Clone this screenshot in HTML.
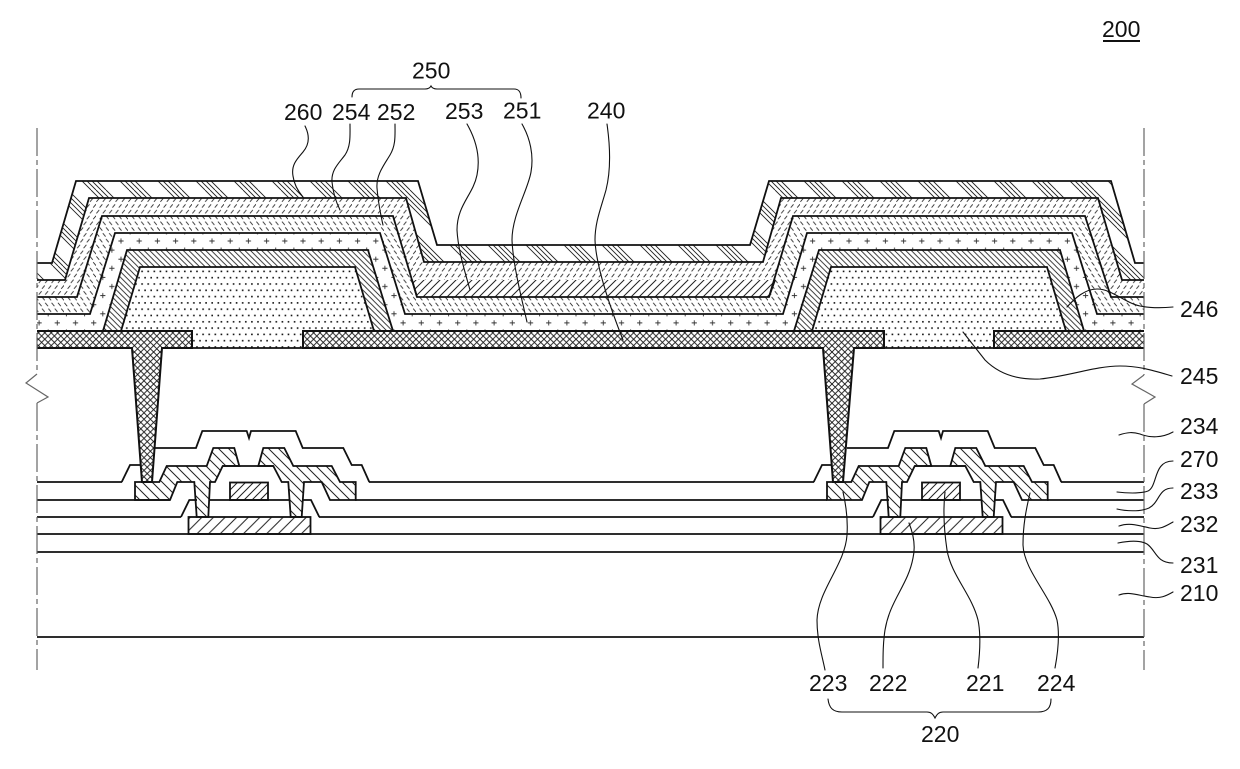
<!DOCTYPE html>
<html>
<head>
<meta charset="utf-8">
<style>
html,body{margin:0;padding:0;background:#fff;width:1240px;height:769px;overflow:hidden}
svg{display:block}
text{font-family:"Liberation Sans",sans-serif;font-size:23px;fill:#111}
.o{stroke:#111;stroke-width:1.8;fill:none;stroke-linejoin:miter}
.l{stroke:#111;stroke-width:1.1;fill:none;stroke-linecap:round}
.c{stroke:#666;stroke-width:1.2;fill:none}
</style>
</head>
<body>
<svg width="1240" height="769" viewBox="0 0 1240 769" xmlns="http://www.w3.org/2000/svg">
<defs>
<pattern id="p260" patternUnits="userSpaceOnUse" width="38" height="38">
<path d="M15 0L53 38M-23 0L15 38M20 0L58 38M-18 0L20 38M25 0L63 38M-13 0L25 38M30 0L68 38M-8 0L30 38" stroke="#222" stroke-width="0.9"/>
</pattern>
<pattern id="p254" patternUnits="userSpaceOnUse" width="6.4" height="11.6">
<path d="M0.4 4.6L3.2 1.2M3.6 10.4L6.4 7" stroke="#222" stroke-width="0.9"/>
</pattern>
<pattern id="p252" patternUnits="userSpaceOnUse" width="6.4" height="11.6">
<path d="M0.4 1.2L3.2 4.6M3.6 7L6.4 10.4" stroke="#222" stroke-width="0.9"/>
</pattern>
<pattern id="p251" patternUnits="userSpaceOnUse" width="18.2" height="18.2" x="121" y="241">
<path d="M-2.6 0H2.6M0 -2.6V2.6M15.6 0H20.8M18.2 -2.6V2.6M-2.6 18.2H2.6M0 15.6V20.8M15.6 18.2H20.8M18.2 15.6V20.8M6.5 9.1H11.7M9.1 6.5V11.7" stroke="#333" stroke-width="0.9"/>
</pattern>
<pattern id="p246" patternUnits="userSpaceOnUse" width="5.6" height="5.6">
<path d="M-1 -1L6.6 6.6M-1 4.6L1 6.6M4.6 -1L6.6 1" stroke="#222" stroke-width="0.9"/>
</pattern>
<pattern id="p245" patternUnits="userSpaceOnUse" width="6.1" height="12.6" x="0" y="4">
<rect x="1" y="2" width="1.6" height="1.6" fill="#111"/>
<rect x="4" y="8.3" width="1.6" height="1.6" fill="#111"/>
</pattern>
<pattern id="p240" patternUnits="userSpaceOnUse" width="6.4" height="6.4">
<path d="M-1 -1L7.4 7.4M-1 7.4L7.4 -1M-1 5.4L1 7.4M5.4 -1L7.4 1M-1 1L1 -1M5.4 7.4L7.4 5.4" stroke="#111" stroke-width="0.9"/>
</pattern>
<pattern id="p253" patternUnits="userSpaceOnUse" width="8" height="8">
<path d="M-1 9L9 -1M-1 1L1 -1M7 9L9 7" stroke="#222" stroke-width="1"/>
</pattern>
<pattern id="p222" patternUnits="userSpaceOnUse" width="11.6" height="11.6">
<path d="M-1 12.6L12.6 -1M-1 1L1 -1M10.6 12.6L12.6 10.6" stroke="#222" stroke-width="1"/>
</pattern>
<pattern id="psd" patternUnits="userSpaceOnUse" width="10" height="10">
<path d="M-1 -1L11 11M-1 9L1 11M9 -1L11 1" stroke="#222" stroke-width="1"/>
</pattern>
<g id="tft">
<rect x="188.5" y="517" width="122" height="17" fill="url(#p222)" stroke="#111" stroke-width="1.8"/>
<rect x="230" y="482.5" width="38" height="17.5" fill="url(#p253)" stroke="#111" stroke-width="1.8"/>
<path class="o" d="M181 517L189.3 500H197M303.5 500H311L319.3 517M209 500H289.5M222.7 466H273.3"/>
<polygon points="135,482 159.3,482 166.7,466 206.7,466 213.3,448 234.3,448 239.3,466 222.7,466 215,482 210,482 208.3,517 196.7,517 194.3,482 177.3,482 170,500 135,500" fill="url(#psd)" stroke="#111" stroke-width="1.8"/>
<polygon points="258.3,466 263.3,448 284.3,448 293.3,466 331.7,466 340,482 355.7,482 355.7,500 330,500 321.7,482 304,482 301.7,517 290.7,517 288.3,482 281.7,482 273.3,466" fill="url(#psd)" stroke="#111" stroke-width="1.8"/>
<path class="o" d="M121.7 482L130 465H141.5M155 448H196L202.3 431H246.7L249 438L251 431H295.7L302.7 448H343.3L351.7 465H361.7L369.3 482"/>
</g>
</defs>
<rect width="1240" height="769" fill="#fff"/>

<!-- 260 -->
<polygon points="37,263 52,263 76,181 418,181 437,245 750,245 769,181 1111,181 1135,263 1144,263 1144,280 1122,280 1098,198 781,198 763,262 424,262 406,198 89,198 65,280 37,280" fill="url(#p260)"/>
<!-- 254 -->
<polygon points="37,280 65,280 89,198 406,198 424,262 763,262 781,198 1098,198 1122,280 1144,280 1144,297 1111,297 1085,216 793,216 769,297 417,297 393,216 102,216 77,297 37,297" fill="url(#p254)"/>
<!-- 252 -->
<polygon points="37,297 77,297 102,216 393,216 417,297 769,297 793,216 1085,216 1111,297 1144,297 1144,314 1097,314 1072,233 807,233 783,314 405,314 380,233 115,233 90,314 37,314" fill="url(#p252)"/>
<!-- 251 -->
<polygon points="37,314 90,314 115,233 380,233 405,314 783,314 807,233 1072,233 1097,314 1144,314 1144,331 1084,331 1060,250 819,250 794,331 393,331 368,250 127,250 103,331 37,331" fill="url(#p251)"/>
<!-- 253 -->
<polygon points="412,280 775,280 769,297 417,297" fill="#fff"/>
<polygon points="412,280 775,280 769,297 417,297" fill="url(#p253)"/>
<!-- 245 -->
<polygon points="121,331 140,267 355,267 374,331 303,331 303,348 192,348 192,331" fill="url(#p245)"/>
<polygon points="812,331 831,267 1047,267 1066,331 994,331 994,348 884,348 884,331" fill="url(#p245)"/>
<path class="o" d="M192 348H303"/>
<path class="o" d="M884 348H994"/>
<!-- 246 -->
<polygon points="103,331 127,250 368,250 393,331 374,331 355,267 140,267 121,331" fill="url(#p246)" stroke="#111" stroke-width="1.8"/>
<polygon points="794,331 819,250 1060,250 1084,331 1066,331 1047,267 831,267 812,331" fill="url(#p246)" stroke="#111" stroke-width="1.8"/>
<!-- layer outlines -->
<path class="o" d="M37 263H52L76 181H418L437 245H750L769 181H1111L1135 263H1144"/>
<path class="o" d="M37 280H65L89 198H406L424 262H763L781 198H1098L1122 280H1144"/>
<path class="o" d="M37 297H77L102 216H393L417 297H769L793 216H1085L1111 297H1144"/>
<path class="o" d="M37 314H90L115 233H380L405 314H783L807 233H1072L1097 314H1144"/>
<path class="o" d="M412 280L417 297M775 280L769 297"/>

<!-- horizontal layers -->
<path class="o" d="M37 482H122M37 500H170M37 517H181M37 534H1144M37 552H1144M37 637H1144"/>
<path class="o" d="M355 500H827M319 517H873M369 482H814M1047 500H1144M1011 517H1144M1061 482H1144"/>

<use href="#tft"/>
<use href="#tft" transform="translate(692 0)"/>

<!-- 240 electrode and vias -->
<path d="M37 331H192V348H162L152 482H142L132 348H37Z" fill="#fff"/>
<path d="M37 331H192V348H162L152 482H142L132 348H37Z" fill="url(#p240)"/>
<path d="M303 331H884V348H854L843 482H833L823 348H303Z" fill="#fff"/>
<path d="M303 331H884V348H854L843 482H833L823 348H303Z" fill="url(#p240)"/>
<path d="M994 331H1144V348H994Z" fill="#fff"/>
<path d="M994 331H1144V348H994Z" fill="url(#p240)"/>
<path class="o" style="stroke-width:2" d="M37 331H192V348H162L152 482H142L132 348H37"/>
<path class="o" style="stroke-width:2" d="M1144 331H994V348H1144"/>
<path class="o" style="stroke-width:2" d="M303 331H884V348H854L843 482H833L823 348H303Z"/>

<!-- cut lines -->
<path class="c" stroke-dasharray="28 4 5 4" d="M37 128V374"/>
<path class="c" d="M37 374L26 383L48 397L37 403"/>
<path class="c" stroke-dasharray="28 4 5 4" d="M37 403V670"/>
<path class="c" stroke-dasharray="28 4 5 4" d="M1144 128V375"/>
<path class="c" d="M1144 375L1132 384L1155 397L1144 404"/>
<path class="c" stroke-dasharray="28 4 5 4" d="M1144 404V670"/>

<!-- leaders -->
<path class="l" d="M305 126C310 136 309 145 303 152C297 159 291 165 293 176C294 184 297 190 303 197"/>
<path class="l" d="M350 124C350 135 351 146 345 155C339 163 331 170 332 182C333 192 336 202 340 210"/>
<path class="l" d="M395 124C395 135 396 145 390 155C384 165 376 175 377 188C378 200 380 212 383 225"/>
<path class="l" d="M467 124C475 138 481 155 477 175C473 195 457 205 457 230C458 250 465 272 470 290"/>
<path class="l" d="M522 124C530 138 534 155 531 172C528 190 512 215 512 240C513 265 522 300 527 322"/>
<path class="l" d="M607 124C610 145 611 170 606 190C601 208 595 222 595 240C596 268 612 312 623 340"/>
<path class="l" d="M1067 307C1075 298 1085 289 1097 289C1112 289 1125 303 1140 306C1150 308 1162 308 1173 307"/>
<path class="l" d="M963 332L985 360C1000 375 1020 380 1040 379C1070 376 1095 366 1120 366C1140 366 1155 371 1172 376"/>
<path class="l" d="M1119 435C1128 432 1133 432 1140 434C1150 438 1162 438 1173 432"/>
<path class="l" d="M1117 492C1125 493 1140 494 1148 491C1158 486 1153 461 1173 461"/>
<path class="l" d="M1117 509C1125 511 1140 512 1149 508C1160 502 1158 488 1173 488"/>
<path class="l" d="M1119 526C1130 522 1140 526 1150 528C1160 530 1166 526 1173 522"/>
<path class="l" d="M1118 543C1128 541 1140 540 1147 544C1156 550 1156 563 1173 563"/>
<path class="l" d="M1119 595C1130 591 1140 596 1150 597C1160 599 1166 596 1173 592"/>
<path class="l" d="M843 492C846 505 848 520 847 535C845 565 818 590 817 620C817 640 822 655 825 670"/>
<path class="l" d="M909 523C913 533 916 545 913 558C908 585 890 600 885 630C883 643 883 655 883 668"/>
<path class="l" d="M945 492C943 510 944 530 947 550C951 575 972 595 978 620C981 635 980 652 978 668"/>
<path class="l" d="M1030 493C1026 510 1023 525 1023 545C1024 570 1050 595 1057 620C1060 635 1058 652 1055 668"/>

<!-- braces -->
<path class="l" d="M352 97C352 92 354 89 359 89H425C428 89 430 88 431 86C432 88 434 89 437 89H514C519 89 521 92 521 98"/>
<path class="l" d="M828 699C829 708 833 712 842 712H927C931 712 933 714 935 718C937 714 939 712 943 712H1038C1047 712 1051 708 1051 699"/>

<!-- labels -->
<text x="1102" y="37">200</text>
<path d="M1103 41H1140" stroke="#111" stroke-width="2"/>
<text x="412" y="78.5">250</text>
<text x="284" y="120">260</text>
<text x="332" y="120">254</text>
<text x="377" y="120">252</text>
<text x="445" y="119">253</text>
<text x="503" y="118.5">251</text>
<text x="587" y="118.5">240</text>
<text x="1180" y="317">246</text>
<text x="1180" y="384">245</text>
<text x="1180" y="434">234</text>
<text x="1180" y="467">270</text>
<text x="1180" y="499">233</text>
<text x="1180" y="532">232</text>
<text x="1180" y="573">231</text>
<text x="1180" y="601">210</text>
<text x="809" y="691">223</text>
<text x="869" y="691">222</text>
<text x="966" y="691">221</text>
<text x="1037" y="691">224</text>
<text x="921" y="742">220</text>
</svg>
</body>
</html>
